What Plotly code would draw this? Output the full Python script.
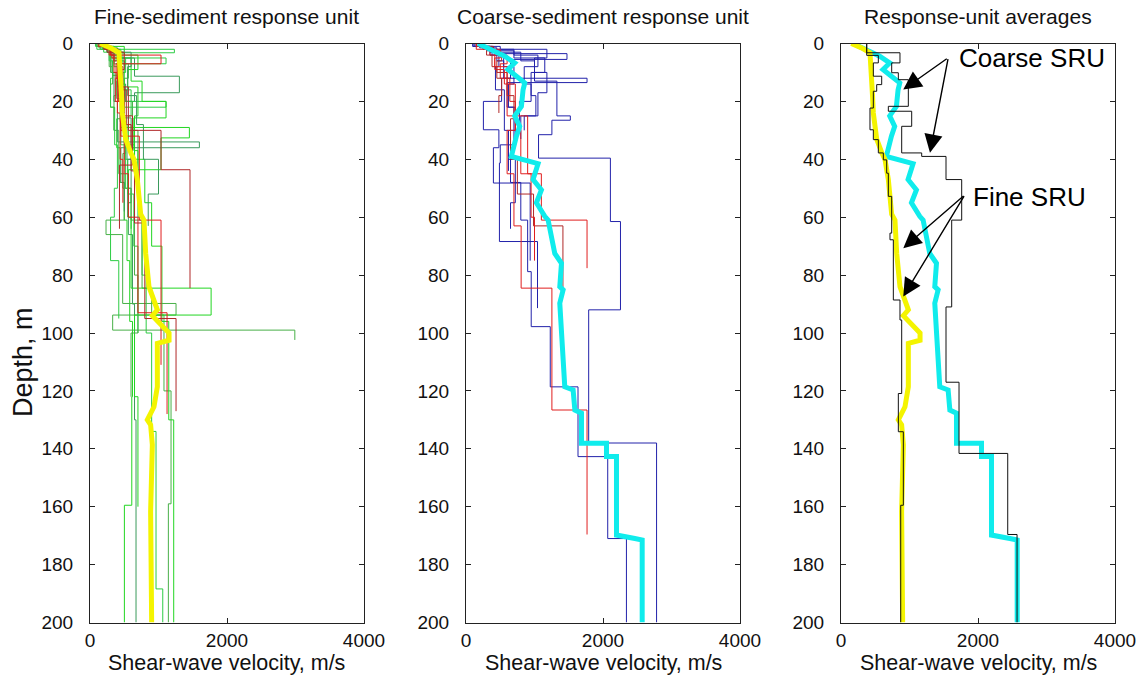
import plotly.graph_objects as go

# ---------------- data ----------------
DEPTH_TICKS = list(range(0, 201, 20))
VEL_TICKS = [0, 2000, 4000]
PANEL_TITLES = ["Fine-sediment response unit", "Coarse-sediment response unit", "Response-unit averages"]
X_LABEL = "Shear-wave velocity, m/s"
Y_LABEL = "Depth, m"

# Fine-sediment response unit: individual profiles (layer boundaries, m / Vs, m/s)
FINE_GREEN_DEPTHS = [
    [0, 1, 2.5, 6, 11, 18, 26, 36, 48, 61, 75, 96, 122, 159.5, 200],
    [0, 1.5, 4, 8, 14, 20, 28, 40, 55, 66, 90, 130, 200],
    [0, 2, 5, 10, 16, 25, 35, 47, 60, 80, 100, 134, 188.4, 200],
    [0, 1, 3, 7, 12, 20, 30, 45, 61, 84.5, 93.8, 120, 159, 200],
    [0, 2, 5, 9, 15, 25, 40, 55, 70, 96, 130, 200],
    [0, 1.5, 5, 11.3, 17, 20, 25.7, 40, 60],
    [0, 2, 3.2, 8, 20, 22, 35, 50, 64],
    [0, 1, 4, 10, 18, 30, 45, 61, 66, 89.8, 93.8, 99, 102.4],
    [0, 2, 6, 15, 29, 32.6, 43.6, 60, 84.5, 93.8, 122, 160],
    [0, 1, 3, 10, 20, 34, 36, 48, 58],
    [0, 2, 5, 7, 15, 25, 40, 52, 70, 100],
    [0, 1, 3, 8, 14, 22, 30],
    [0, 1, 4, 9, 13, 20, 25.7, 37, 46],
    [0, 3, 8, 18, 28, 40, 52, 63],
    [0, 1, 3, 6, 12, 22, 35, 50, 60, 75, 95],
    [0, 1.5, 3, 7, 13, 19, 27, 38, 50, 61, 80, 100, 122],
]
FINE_GREEN_VS = [
    [120, 250, 380, 330, 420, 460, 390, 440, 500, 540, 580, 620, 610, 502],
    [180, 320, 450, 400, 520, 470, 540, 600, 560, 620, 650, 672],
    [200, 400, 520, 480, 600, 560, 650, 700, 760, 820, 900, 964, 1062],
    [150, 300, 480, 560, 500, 620, 700, 650, 760, 900, 1080, 1183, 1144],
    [250, 450, 600, 550, 700, 650, 800, 900, 1050, 1150, 1222],
    [200, 400, 650, 1305, 650, 500, 600, 550],
    [150, 1232, 350, 420, 1110, 450, 520, 600],
    [200, 350, 300, 380, 350, 420, 500, 234, 477, 1256, 331, 2990],
    [180, 420, 500, 450, 1451, 1037, 560, 600, 1768, 650, 700],
    [100, 250, 320, 350, 400, 1597, 450, 500],
    [100, 300, 1110, 400, 450, 500, 550, 640, 700],
    [150, 350, 280, 330, 300, 350],
    [200, 500, 700, 600, 760, 1110, 640, 700],
    [250, 600, 550, 680, 780, 1000, 850],
    [80, 200, 280, 330, 300, 360, 400, 355, 300, 420],
    [130, 280, 350, 410, 390, 440, 520, 480, 600, 650, 700, 599],
]
FINE_RED_DEPTHS = [
    [0, 1, 4, 7, 12, 20, 32, 61, 111],
    [0, 2, 6, 15, 25, 30, 43.6, 84.5],
    [0, 1, 5, 12, 20, 30, 45, 60, 93, 128],
    [0, 2, 8, 16, 28, 44, 62, 95, 127],
    [0, 1, 4, 10, 24, 40, 55],
    [0, 3, 9, 15, 30, 42, 64],
]
FINE_RED_VS = [
    [150, 300, 1037, 380, 420, 450, 720, 1037],
    [200, 350, 450, 500, 620, 1037, 1460],
    [180, 320, 400, 370, 450, 500, 560, 700, 1125],
    [220, 420, 480, 530, 600, 650, 800, 1256],
    [120, 280, 350, 400, 440, 480],
    [250, 500, 420, 560, 620, 430],
]

# Coarse-sediment response unit: individual profiles
COARSE_BLUE_DEPTHS = [
    [0, 1, 3, 6, 13, 25, 26.5, 31.5, 39.6, 61.5, 92, 138, 200],
    [0, 1, 4, 8, 14, 22, 36, 48, 61, 78.8, 97.8, 118.6, 142.7, 171, 200],
    [0, 1.5, 3.5, 5.5, 12, 20, 29.8, 36, 48.2, 75],
    [0, 1, 3, 6, 12, 13.5, 22, 35, 41.3, 68.4, 91.4],
    [0, 2, 5, 10, 18, 25, 33],
    [0, 1, 4, 8, 16, 30, 40, 55, 64],
    [0, 1, 2, 5, 10, 17, 25, 30],
    [0, 1, 2.5, 4, 8, 14, 20, 30, 44],
]
COARSE_BLUE_VS = [
    [150, 400, 800, 1000, 1327, 1523, 1254, 1059, 2108, 2255, 1791, 2782],
    [120, 350, 550, 700, 620, 720, 650, 800, 900, 952, 1230, 1635, 2069, 2342],
    [200, 450, 1474, 650, 520, 254, 480, 400, 937],
    [150, 350, 450, 550, 1767, 600, 700, 500, 488, 1044],
    [250, 700, 1150, 950, 1020, 800],
    [180, 380, 480, 430, 560, 620, 720, 650],
    [100, 500, 1181, 1000, 1181, 1050, 850],
    [100, 300, 700, 1050, 850, 950, 780, 620],
]
COARSE_RED_DEPTHS = [
    [0, 1, 4, 7, 12, 20, 30, 45, 63, 84.5, 126.6, 169.6],
    [0, 1, 3, 6, 10, 18, 26, 40, 52, 63, 85],
    [0, 2, 5, 9, 14, 25, 45, 61, 77.6],
    [0, 1, 4, 8, 12, 18, 24],
    [0, 2, 8, 14, 30, 45, 60, 75],
]
COARSE_RED_VS = [
    [150, 350, 600, 500, 640, 720, 600, 700, 805, 1254, 1767],
    [200, 400, 520, 450, 600, 700, 650, 750, 986, 1415],
    [250, 500, 420, 560, 600, 900, 1100, 1767],
    [180, 300, 380, 450, 520, 480],
    [150, 420, 600, 720, 800, 950, 1000],
]

# Response-unit averages
FINE_AVG_DEPTH = [0, 1.5, 3.2, 8, 12.5, 18, 24, 29, 33, 38, 40, 47, 53, 59, 61, 72.5, 84, 88.6, 92, 94,
                  95.5, 100, 102.5, 103.6, 118.6, 125.5, 130, 131.7, 138.6, 161.7, 200]
FINE_AVG_VS = [150, 300, 423, 440, 447, 460, 472, 500, 521, 600, 642, 691, 720, 740, 788, 813, 861, 934, 983, 910,
               970, 1154, 1154, 983, 983, 934, 837, 885, 910, 885, 900]
COARSE_AVG_DEPTH = [0, 1.5, 4.4, 6.7, 9, 11.3, 13.6, 16, 21.7, 25, 28.6, 32, 39, 41.5, 47, 50.6, 55, 59.7, 61,
                    72.5, 75.9, 84, 85.1, 89.7, 97.8, 118.6, 119.7, 126.6, 127.7, 138.1, 138.1, 142.7, 142.7,
                    169.8, 171, 171.5, 200]
COARSE_AVG_VS = [175, 321, 565, 711, 613, 736, 858, 833, 809, 711, 784, 736, 662, 1052, 979, 1101, 1028, 1150, 1199,
                 1296, 1394, 1369, 1418, 1369, 1394, 1442, 1564, 1589, 1686, 1686, 2051, 2051, 2197,
                 2197, 2465, 2572, 2572]
COARSE_REP_DEPTH = [0, 3.2, 6.7, 10.1, 12.5, 21.7, 23.4, 28.6, 37.8, 39, 47, 61, 91, 117, 141.6, 169.6, 200]
COARSE_REP_VS = [375, 861, 740, 837, 983, 691, 1032, 886, 1178, 1533, 1762, 1616, 1533, 1723, 2434, 2570]
FINE_REP_DEPTH = [0, 4.1, 6.7, 11.3, 14.2, 16.5, 22.3, 29.8, 33.2, 37.8, 40.2, 44.8, 52.8, 65.5, 67.8, 88.6,
                  95.5, 120.9, 134.1, 159.5, 200]
FINE_REP_VS = [375, 545, 472, 594, 521, 472, 423, 472, 545, 618, 667, 691, 740, 715, 764, 861, 886, 837, 910, 872]

# annotation anchor points (velocity, depth) in panel 3
COARSE_LABEL = "Coarse SRU"
FINE_LABEL = "Fine SRU"
COARSE_ARROW_TAIL = (1566, 4.9)
COARSE_ARROW_TIPS = [(909, 15.9), (1299, 37.7)]
FINE_ARROW_TAIL = (1810, 52.2)
FINE_ARROW_TIPS = [(909, 70.7), (909, 87.4)]

# ---------------- figure ----------------
W, H = 1148, 676
FONT = "Liberation Sans, Arial, sans-serif"
fig = go.Figure()


def add_step(depths, vs, ax, color, width=1):
    fig.add_trace(go.Scatter(
        x=list(vs) + [vs[-1]], y=depths, mode="lines",
        line=dict(color=color, width=width, shape="vh"),
        xaxis="x" + ax, yaxis="y" + ax, showlegend=False, hoverinfo="skip"))


def add_line(depths, vs, ax, color, width):
    fig.add_trace(go.Scatter(
        x=vs, y=depths, mode="lines", line=dict(color=color, width=width),
        xaxis="x" + ax, yaxis="y" + ax, showlegend=False, hoverinfo="skip"))


GREENS = ["#22d622", "#3a9a5c", "#2ccc44", "#48b048"]
REDS = ["#e01e1e", "#b02828"]

# panel 1
for i, (d, v) in enumerate(zip(FINE_GREEN_DEPTHS, FINE_GREEN_VS)):
    add_step(d, v, "", GREENS[i % len(GREENS)])
for i, (d, v) in enumerate(zip(FINE_RED_DEPTHS, FINE_RED_VS)):
    add_step(d, v, "", REDS[i % len(REDS)])
add_line(FINE_AVG_DEPTH, FINE_AVG_VS, "", "#f4f400", 5)

# panel 2
for d, v in zip(COARSE_BLUE_DEPTHS, COARSE_BLUE_VS):
    add_step(d, v, "2", "#2222aa")
for i, (d, v) in enumerate(zip(COARSE_RED_DEPTHS, COARSE_RED_VS)):
    add_step(d, v, "2", REDS[i % len(REDS)])
add_line(COARSE_AVG_DEPTH, COARSE_AVG_VS, "2", "#10ecec", 5)

# panel 3
add_line(COARSE_AVG_DEPTH, COARSE_AVG_VS, "3", "#10ecec", 5)
add_line(FINE_AVG_DEPTH, FINE_AVG_VS, "3", "#f4f400", 5)
add_step(COARSE_REP_DEPTH, COARSE_REP_VS, "3", "#111111", 1)
add_step(FINE_REP_DEPTH, FINE_REP_VS, "3", "#111111", 1)

X_DOMAINS = [[90 / W, 364 / W], [466 / W, 740 / W], [841 / W, 1115 / W]]
Y_DOMAIN = [1 - 622.5 / H, 1 - 43.5 / H]

tickfont = dict(family=FONT, size=19, color="#111")
common = dict(ticks="inside", ticklen=5, tickcolor="#222", showline=True, linecolor="#222",
              linewidth=1, mirror="allticks", showgrid=False, zeroline=False, tickfont=tickfont,
              automargin=False)
layout_axes = {}
for i, dom in enumerate(X_DOMAINS):
    s = "" if i == 0 else str(i + 1)
    layout_axes["xaxis" + s] = dict(domain=dom, range=[0, 4000], tickvals=VEL_TICKS,
                                    anchor="y" + s, ticklabelstandoff=1, **common)
    layout_axes["yaxis" + s] = dict(domain=Y_DOMAIN, range=[200, 0], tickvals=DEPTH_TICKS,
                                    anchor="x" + s, ticklabelstandoff=12, **common)

annotations = []
for i, dom in enumerate(X_DOMAINS):
    cx = (dom[0] + dom[1]) / 2
    annotations.append(dict(text=PANEL_TITLES[i], x=cx, y=1 - 17 / H, xref="paper", yref="paper",
                            showarrow=False, xanchor="center", yanchor="middle",
                            font=dict(family=FONT, size=21, color="#111")))
    annotations.append(dict(text=X_LABEL, x=cx, y=1 - 663 / H, xref="paper", yref="paper",
                            showarrow=False, xanchor="center", yanchor="middle",
                            font=dict(family=FONT, size=21.5, color="#111")))
annotations.append(dict(text=Y_LABEL, x=23 / W, y=1 - 362 / H, xref="paper", yref="paper",
                        showarrow=False, textangle=-90, xanchor="center", yanchor="middle",
                        font=dict(family=FONT, size=27, color="#111")))
annotations.append(dict(text=COARSE_LABEL, x=957 / W, y=1 - 58 / H, xref="paper", yref="paper",
                        showarrow=False, xanchor="left", yanchor="middle",
                        font=dict(family=FONT, size=26, color="#000")))
annotations.append(dict(text=FINE_LABEL, x=971 / W, y=1 - 197 / H, xref="paper", yref="paper",
                        showarrow=False, xanchor="left", yanchor="middle",
                        font=dict(family=FONT, size=26, color="#000")))
for tail, tips in [(COARSE_ARROW_TAIL, COARSE_ARROW_TIPS), (FINE_ARROW_TAIL, FINE_ARROW_TIPS)]:
    for tip in tips:
        annotations.append(dict(text="", x=tip[0], y=tip[1], xref="x3", yref="y3",
                                ax=tail[0], ay=tail[1], axref="x3", ayref="y3",
                                showarrow=True, arrowhead=2, arrowsize=2.6, arrowwidth=1.4,
                                arrowcolor="#000", standoff=0, startstandoff=0))

fig.update_layout(template="none", width=W, height=H, margin=dict(l=0, r=0, t=0, b=0, pad=0),
                  paper_bgcolor="white", plot_bgcolor="white",
                  annotations=annotations, showlegend=False, **layout_axes)

fig.write_html("out.html")
